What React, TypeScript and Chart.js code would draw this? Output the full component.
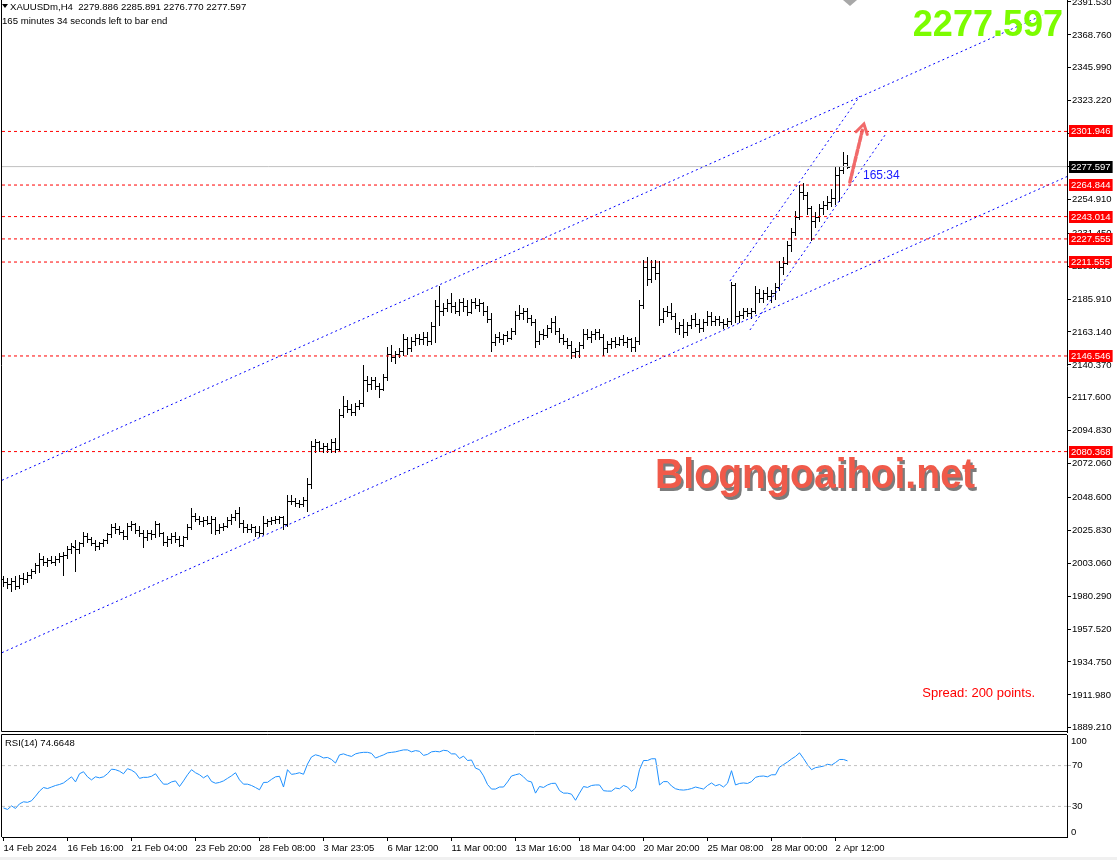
import React, { useEffect, useRef } from "react";
import { Chart, registerables } from "chart.js";
Chart.register(...registerables);

const FONT = "'Liberation Sans', Arial, sans-serif";
const AX = 9.5;

const opens = [1992,1990,1989,1991,1987,1993,1992,1995,1998,2002,2006,2004,2005,2004,2006,2008,2009,2013,2014,2013,2017,2022,2020,2017,2015,2017,2019,2023,2028,2027,2025,2022,2029,2030,2026,2024,2021,2024,2023,2030,2024,2018,2020,2022,2020,2016,2021,2028,2036,2034,2032,2033,2031,2034,2026,2028,2029,2033,2035,2038,2031,2028,2027,2028,2025,2024,2031,2032,2033,2034,2035,2030,2046,2046,2045,2044,2047,2058,2084,2087,2083,2084,2082,2087,2082,2106,2112,2110,2108,2112,2114,2130,2127,2130,2126,2124,2132,2148,2146,2148,2150,2158,2152,2157,2159,2158,2160,2157,2167,2181,2178,2180,2183,2181,2178,2184,2181,2177,2184,2182,2183,2178,2172,2156,2160,2158,2161,2159,2164,2175,2176,2178,2173,2170,2157,2162,2161,2166,2170,2164,2159,2157,2154,2149,2150,2154,2162,2160,2162,2163,2160,2152,2155,2157,2155,2158,2156,2158,2153,2157,2182,2208,2200,2208,2204,2172,2178,2177,2174,2166,2168,2163,2168,2172,2169,2166,2170,2174,2171,2172,2170,2169,2171,2196,2174,2175,2178,2176,2178,2190,2187,2190,2188,2190,2194,2208,2211,2223,2232,2243,2260,2258,2249,2240,2243,2249,2251,2253,2256,2272,2275,2279.886];
const highs = [1994,1993,1993,1994,1995,1996,1997,1999,2003,2010,2008,2007,2008,2008,2010,2011,2015,2017,2019,2018,2025,2024,2021,2019,2018,2020,2024,2030,2031,2029,2026,2031,2032,2031,2029,2026,2026,2026,2032,2031,2025,2022,2024,2025,2022,2022,2030,2041,2038,2036,2035,2036,2036,2035,2030,2031,2035,2037,2040,2042,2033,2030,2030,2029,2029,2036,2034,2035,2036,2036,2036,2050,2050,2048,2047,2049,2062,2088,2089,2088,2086,2086,2089,2090,2110,2119,2116,2113,2114,2116,2140,2133,2132,2132,2128,2134,2153,2154,2150,2152,2162,2160,2160,2162,2162,2163,2163,2170,2185,2195,2183,2186,2190,2184,2186,2187,2185,2186,2187,2186,2184,2181,2176,2162,2163,2162,2164,2166,2178,2182,2180,2180,2175,2172,2164,2165,2168,2173,2174,2166,2162,2159,2157,2152,2156,2165,2165,2164,2165,2165,2162,2157,2159,2160,2160,2161,2160,2159,2160,2185,2213,2215,2213,2213,2212,2180,2181,2183,2176,2170,2172,2170,2175,2176,2172,2172,2178,2177,2174,2174,2172,2173,2198,2197,2178,2180,2180,2180,2195,2193,2192,2194,2192,2197,2212,2215,2226,2235,2247,2265,2266,2260,2250,2246,2252,2254,2257,2262,2277,2277,2288,2285.891];
const lows = [1987,1986,1984,1985,1986,1989,1990,1993,1996,1997,2002,2001,2003,2002,2004,1995,2007,2010,1998,2010,2015,2018,2016,2012,2013,2015,2017,2021,2024,2023,2020,2020,2026,2024,2022,2014,2019,2020,2021,2022,2016,2015,2017,2018,2015,2015,2020,2027,2032,2030,2029,2030,2024,2023,2024,2026,2028,2030,2033,2028,2025,2025,2025,2022,2022,2023,2029,2030,2031,2031,2027,2029,2044,2043,2042,2043,2039,2055,2080,2081,2080,2080,2080,2080,2081,2104,2108,2106,2106,2110,2112,2122,2124,2124,2118,2123,2130,2143,2142,2146,2147,2148,2150,2154,2155,2155,2154,2155,2156,2168,2175,2178,2177,2176,2175,2178,2175,2176,2180,2178,2175,2170,2150,2154,2156,2155,2157,2158,2162,2172,2172,2170,2168,2153,2155,2158,2160,2163,2162,2156,2155,2152,2145,2146,2146,2152,2158,2156,2158,2158,2147,2149,2152,2153,2154,2154,2153,2150,2150,2155,2180,2196,2198,2200,2168,2170,2174,2172,2163,2162,2160,2161,2166,2167,2163,2164,2168,2168,2168,2168,2166,2167,2169,2170,2170,2173,2174,2173,2176,2184,2184,2186,2184,2186,2192,2203,2210,2219,2230,2241,2255,2245,2227,2236,2240,2245,2248,2250,2252,2254,2273,2276.77];
const closes = [1990,1989,1991,1987,1993,1992,1995,1998,2002,2006,2004,2005,2004,2006,2008,2009,2013,2015,2013,2017,2022,2020,2017,2015,2017,2019,2023,2028,2027,2025,2022,2029,2030,2026,2024,2021,2024,2023,2030,2024,2018,2020,2022,2020,2016,2021,2028,2036,2034,2032,2033,2031,2034,2026,2028,2029,2033,2035,2038,2031,2028,2027,2028,2025,2024,2031,2032,2033,2034,2035,2030,2046,2046,2045,2044,2047,2058,2084,2087,2083,2084,2082,2087,2082,2106,2112,2110,2108,2112,2114,2130,2127,2130,2126,2124,2132,2148,2146,2148,2150,2158,2152,2157,2159,2158,2160,2157,2167,2181,2178,2180,2183,2181,2178,2184,2181,2177,2184,2182,2183,2178,2172,2156,2160,2158,2161,2159,2164,2175,2176,2178,2173,2170,2157,2162,2161,2166,2170,2164,2159,2157,2154,2149,2150,2154,2162,2160,2162,2163,2160,2152,2155,2157,2155,2158,2156,2158,2153,2157,2182,2208,2200,2208,2204,2172,2178,2177,2174,2166,2168,2163,2168,2172,2169,2166,2170,2174,2171,2172,2170,2169,2171,2196,2174,2175,2178,2176,2178,2190,2187,2190,2188,2190,2194,2208,2211,2223,2232,2243,2260,2258,2249,2240,2243,2249,2251,2253,2256,2272,2275,2280,2277.597];

const rsiValues = [28.5,27,30.5,28,32.5,34.5,34,35.5,40,45,48.5,47.5,49,50.5,51.5,53,56,59,54,62,64,59,56,59,58,59,62,66.5,66,64.5,62,67,65.5,63,57.5,58.5,58.5,59.5,62,56.5,51.8,51.8,54,55,49.5,55,61,66,63,61,58,60.5,54.5,52.7,53.5,55,57.5,60,63,56,51.8,51.8,50.5,48.5,46.3,53.5,53.6,56.5,59,59.5,49,66,61.4,62,63,61.5,71.5,78.5,80.6,79.5,77.5,78,76,72.5,80.5,81.5,80,79,81.5,82.5,83,83,82,77.4,79,80.5,82.5,83,83.5,84.5,85.4,85.4,83.5,84.7,84,80,81,83.5,84,83.5,85,84.5,81.5,81.5,77,79.3,75,75.5,67.5,66,60,51.5,47,47,49,49,54,59.8,61,62,59,55,54,43,49.5,48.6,51,52.5,52.7,45.5,43,43,42,36,43,49.5,48.6,50.5,51,51,45.4,45,45,48,47.3,50.5,49,44.7,48,66,75,75,76.7,76.7,51,54.3,54.3,50,47.3,46.3,46,46.5,47.5,49,48,47,50.5,53,50.2,51.5,49,52.7,65,51,52.5,53,52.5,54.3,58.5,59.5,59.8,59,61,61,68.5,71,73.5,76.5,79,82.5,77,71,66,68,68.7,69.5,71.3,70.5,73,76,76,74.6648];

const xTickIndex = [0,16,32,48,64,80,96,112,128,144,160,176,192,208];
const xTickLabels = ["14 Feb 2024","16 Feb 16:00","21 Feb 04:00","23 Feb 20:00","28 Feb 08:00","3 Mar 23:05","6 Mar 12:00","11 Mar 00:00","13 Mar 16:00","18 Mar 04:00","20 Mar 20:00","25 Mar 08:00","28 Mar 00:00","2 Apr 12:00"];
const priceTicks = [2391.53,2368.76,2345.99,2323.22,2300.45,2277.68,2254.91,2231.45,2208.68,2185.91,2163.14,2140.37,2117.6,2094.83,2072.06,2048.6,2025.83,2003.06,1980.29,1957.52,1934.75,1911.98,1889.21];
const levelPrices = [2301.946,2264.844,2243.014,2227.555,2211.555,2146.546,2080.368];
const lastPrice = 2277.597;
const channelUpper = [{ x: -0.375, y: 2060.5 }, { x: 259.9, y: 2382.5 }];
const channelLower = [{ x: -0.375, y: 1941.2 }, { x: 265.875, y: 2270.7 }];
const steepUpper = [{ x: 181.6, y: 2198.4 }, { x: 214.1, y: 2326.5 }];
const steepLower = [{ x: 186.6, y: 2164.5 }, { x: 220.4, y: 2299.5 }];
const arrowPts = [{ x: 211.6, y: 2266.9 }, { x: 215.1, y: 2307.1 }];

const X_MIN = -0.375, X_MAX = 265.875;
const P_MIN = 1886.3, P_MAX = 2392.9;

const noPad = (s: any) => {
  s.paddingTop = 0;
  s.paddingBottom = 0;
  s.paddingLeft = 0;
  s.paddingRight = 0;
};

const mainPlugin = {
  id: "mainDecor",
  beforeDatasetsDraw(chart: any) {
    const { ctx, chartArea } = chart;
    const xs = chart.scales.x, ys = chart.scales.y;
    ctx.save();
    ctx.beginPath();
    ctx.rect(chartArea.left, chartArea.top, chartArea.right - chartArea.left, chartArea.bottom - chartArea.top);
    ctx.clip();
    ctx.strokeStyle = "#000";
    ctx.lineWidth = 1;
    ctx.beginPath();
    for (let i = 0; i < closes.length; i++) {
      const cx = Math.floor(xs.getPixelForValue(i)) + 0.5;
      const yh = Math.round(ys.getPixelForValue(highs[i]));
      const yl = Math.round(ys.getPixelForValue(lows[i]));
      const yo = Math.round(ys.getPixelForValue(opens[i])) + 0.5;
      const yc = Math.round(ys.getPixelForValue(closes[i])) + 0.5;
      ctx.moveTo(cx, yh);
      ctx.lineTo(cx, yl + 1);
      ctx.moveTo(cx - 2.5, yo);
      ctx.lineTo(cx - 0.5, yo);
      ctx.moveTo(cx + 0.5, yc);
      ctx.lineTo(cx + 2.5, yc);
    }
    ctx.stroke();
    ctx.restore();
  },
  afterDraw(chart: any) {
    const { ctx, chartArea } = chart;
    const xs = chart.scales.x, ys = chart.scales.y;
    ctx.save();
    ctx.strokeStyle = "#000";
    ctx.lineWidth = 1;
    ctx.beginPath();
    ctx.moveTo(chartArea.left - 0.5, chartArea.top);
    ctx.lineTo(chartArea.left - 0.5, chartArea.bottom - 0.5);
    ctx.lineTo(chartArea.right, chartArea.bottom - 0.5);
    ctx.stroke();

    // arrow
    const ax0 = xs.getPixelForValue(arrowPts[0].x), ay0 = ys.getPixelForValue(arrowPts[0].y);
    const ax1 = xs.getPixelForValue(arrowPts[1].x), ay1 = ys.getPixelForValue(arrowPts[1].y);
    const ang = Math.atan2(ay1 - ay0, ax1 - ax0);
    const hl = 11;
    ctx.strokeStyle = "rgba(240,90,90,0.9)";
    ctx.lineWidth = 3.5;
    ctx.lineCap = "round";
    ctx.setLineDash([5, 2]);
    ctx.beginPath();
    ctx.moveTo(ax0, ay0);
    ctx.lineTo(ax1 - Math.cos(ang) * hl * 0.6, ay1 - Math.sin(ang) * hl * 0.6);
    ctx.stroke();
    ctx.setLineDash([]);
    ctx.lineWidth = 3;
    ctx.beginPath();
    ctx.moveTo(ax1 - Math.cos(ang - 0.55) * hl, ay1 - Math.sin(ang - 0.55) * hl);
    ctx.lineTo(ax1, ay1);
    ctx.lineTo(ax1 - Math.cos(ang + 0.55) * hl, ay1 - Math.sin(ang + 0.55) * hl);
    ctx.stroke();
    ctx.lineCap = "butt";

    // timer text
    ctx.fillStyle = "#1a1aff";
    ctx.font = `12px ${FONT}`;
    ctx.textBaseline = "alphabetic";
    ctx.textAlign = "left";
    ctx.fillText("165:34", 863, 178.5);

    // price labels on axis
    const drawLabel = (p: number, bg: string, fg: string) => {
      const yy = Math.round(ys.getPixelForValue(p));
      ctx.font = `${AX}px ${FONT}`;
      const t = p.toFixed(3);
      const w = ctx.measureText(t).width;
      ctx.fillStyle = bg;
      ctx.fillRect(1069, yy - 6, w + 4, 12);
      ctx.fillStyle = fg;
      ctx.textBaseline = "middle";
      ctx.fillText(t, 1071, yy + 0.5);
    };
    levelPrices.forEach((p) => drawLabel(p, "#ff0000", "#ffffff"));
    drawLabel(lastPrice, "#000000", "#ffffff");

    // header
    ctx.fillStyle = "#000";
    ctx.beginPath();
    ctx.moveTo(2, 4);
    ctx.lineTo(8, 4);
    ctx.lineTo(5, 8);
    ctx.closePath();
    ctx.fill();
    ctx.font = `9.6px ${FONT}`;
    ctx.textBaseline = "alphabetic";
    ctx.fillText("XAUUSDm,H4  2279.886 2285.891 2276.770 2277.597", 10, 10);
    ctx.fillText("165 minutes 34 seconds left to bar end", 2, 24);

    // top shift marker
    ctx.fillStyle = "#a8a8a8";
    ctx.beginPath();
    ctx.moveTo(843, 0);
    ctx.lineTo(857, 0);
    ctx.lineTo(850, 6);
    ctx.closePath();
    ctx.fill();

    // big green price
    ctx.fillStyle = "#7cfc00";
    ctx.font = `bold 36px ${FONT}`;
    ctx.textAlign = "right";
    ctx.fillText("2277.597", 1063, 35.5);

    // spread
    ctx.fillStyle = "#ff0000";
    ctx.font = `13px ${FONT}`;
    ctx.textAlign = "right";
    ctx.fillText("Spread: 200 points.", 1035, 697);

    // watermark
    const t = "Blogngoaihoi.net";
    ctx.textAlign = "left";
    ctx.font = `bold 42px ${FONT}`;
    const w = ctx.measureText(t).width;
    ctx.translate(655, 488);
    ctx.scale(320 / w, 1);
    ctx.fillStyle = "rgba(80,80,80,0.75)";
    ctx.fillText(t, 2.5, 2.5);
    ctx.fillStyle = "#f05a4a";
    ctx.fillText(t, 0, 0);
    ctx.restore();
  },
};

const rsiPlugin = {
  id: "rsiDecor",
  afterDraw(chart: any) {
    const { ctx, chartArea } = chart;
    ctx.save();
    ctx.strokeStyle = "#000";
    ctx.lineWidth = 1;
    ctx.beginPath();
    ctx.moveTo(chartArea.left - 0.5, chartArea.bottom);
    ctx.lineTo(chartArea.left - 0.5, chartArea.top - 0.5);
    ctx.lineTo(chartArea.right, chartArea.top - 0.5);
    ctx.stroke();
    ctx.fillStyle = "#000";
    ctx.font = `${AX}px ${FONT}`;
    ctx.textBaseline = "alphabetic";
    ctx.textAlign = "left";
    ctx.fillText("RSI(14) " + rsiValues[rsiValues.length - 1].toFixed(4), 5, 13.5);
    ctx.textBaseline = "middle";
    ctx.fillText("100", 1071, 9);
    ctx.fillText("0", 1071, 100);
    ctx.restore();
  },
};

export default function App() {
  const mainRef = useRef<HTMLCanvasElement>(null);
  const rsiRef = useRef<HTMLCanvasElement>(null);

  useEffect(() => {
    document.body.style.margin = "0";
    const lineDs = (data: any[], color: string, dash: number[] = []) => ({
      data,
      borderColor: color,
      borderWidth: 1,
      borderDash: dash,
      pointRadius: 0,
      fill: false,
    });
    const main = new Chart(mainRef.current as HTMLCanvasElement, {
      type: "line",
      data: {
        datasets: [
          ...levelPrices.map((p) => lineDs([{ x: X_MIN, y: p }, { x: X_MAX, y: p }], "#ff0000", [3, 3])),
          lineDs([{ x: X_MIN, y: lastPrice }, { x: X_MAX, y: lastPrice }], "#c0c0c0"),
          lineDs(channelUpper, "#0000ff", [2, 3]),
          lineDs(channelLower, "#0000ff", [2, 3]),
          lineDs(steepUpper, "#0000ff", [2, 3]),
          lineDs(steepLower, "#0000ff", [2, 3]),
        ] as any,
      },
      options: {
        responsive: false,
        animation: false,
        devicePixelRatio: 1,
        layout: { autoPadding: false, padding: { left: 2, top: 0, right: 0, bottom: 2 } },
        plugins: { legend: { display: false }, tooltip: { enabled: false } },
        elements: { line: { tension: 0 }, point: { radius: 0 } },
        scales: {
          x: { type: "linear", min: X_MIN, max: X_MAX, display: false, offset: false },
          y: {
            type: "linear",
            position: "right",
            min: P_MIN,
            max: P_MAX,
            afterFit: (s: any) => { s.width = 50; noPad(s); },
            afterBuildTicks: (s: any) => { s.ticks = priceTicks.map((v) => ({ value: v })); },
            ticks: {
              autoSkip: false,
              font: { family: FONT, size: AX },
              color: "#000",
              padding: 1,
              callback: (v: any) => Number(v).toFixed(3),
            },
            grid: { drawOnChartArea: false, drawTicks: true, tickLength: 4, color: "#000" },
            border: { display: true, color: "#000" },
          },
        },
      } as any,
      plugins: [mainPlugin],
    });

    const rsi = new Chart(rsiRef.current as HTMLCanvasElement, {
      type: "line",
      data: {
        datasets: [
          lineDs([{ x: X_MIN, y: 70 }, { x: X_MAX, y: 70 }], "#c0c0c0", [3, 3]),
          lineDs([{ x: X_MIN, y: 30 }, { x: X_MAX, y: 30 }], "#c0c0c0", [3, 3]),
          lineDs(rsiValues.map((v, i) => ({ x: i, y: v })), "#1e90ff"),
        ] as any,
      },
      options: {
        responsive: false,
        animation: false,
        devicePixelRatio: 1,
        layout: { autoPadding: false, padding: { left: 2, top: 3, right: 0, bottom: 0 } },
        plugins: { legend: { display: false }, tooltip: { enabled: false } },
        elements: { line: { tension: 0 }, point: { radius: 0 } },
        scales: {
          x: {
            type: "linear",
            min: X_MIN,
            max: X_MAX,
            offset: false,
            position: "bottom",
            afterFit: (s: any) => { s.height = 23; noPad(s); },
            afterBuildTicks: (s: any) => { s.ticks = xTickIndex.map((v) => ({ value: v })); },
            ticks: {
              autoSkip: false,
              maxRotation: 0,
              minRotation: 0,
              align: "start",
              font: { family: FONT, size: AX },
              color: "#000",
              padding: 2,
              callback: (v: any) => xTickLabels[xTickIndex.indexOf(Number(v))] ?? "",
            },
            grid: { drawOnChartArea: false, drawTicks: true, tickLength: 4, color: "#000" },
            border: { display: true, color: "#000" },
          },
          y: {
            type: "linear",
            position: "right",
            min: 0,
            max: 100,
            afterFit: (s: any) => { s.width = 50; noPad(s); },
            afterBuildTicks: (s: any) => { s.ticks = [{ value: 30 }, { value: 70 }]; },
            ticks: { font: { family: FONT, size: AX }, color: "#000", padding: 1, callback: (v: any) => String(v) },
            grid: { drawOnChartArea: false, drawTicks: true, tickLength: 4, color: "#b0b0b0" },
            border: { display: true, color: "#000" },
          },
        },
      } as any,
      plugins: [rsiPlugin],
    });

    return () => {
      main.destroy();
      rsi.destroy();
    };
  }, []);

  return (
    <div style={{ position: "relative", width: 1117, height: 860, background: "#fff", overflow: "hidden" }}>
      <div style={{ position: "absolute", left: 0, top: 857, width: 1117, height: 3, background: "#f0f0f0" }} />
      <canvas ref={mainRef} width={1117} height={734} style={{ position: "absolute", left: 0, top: 0 }} />
      <canvas ref={rsiRef} width={1117} height={128} style={{ position: "absolute", left: 0, top: 732 }} />
    </div>
  );
}
